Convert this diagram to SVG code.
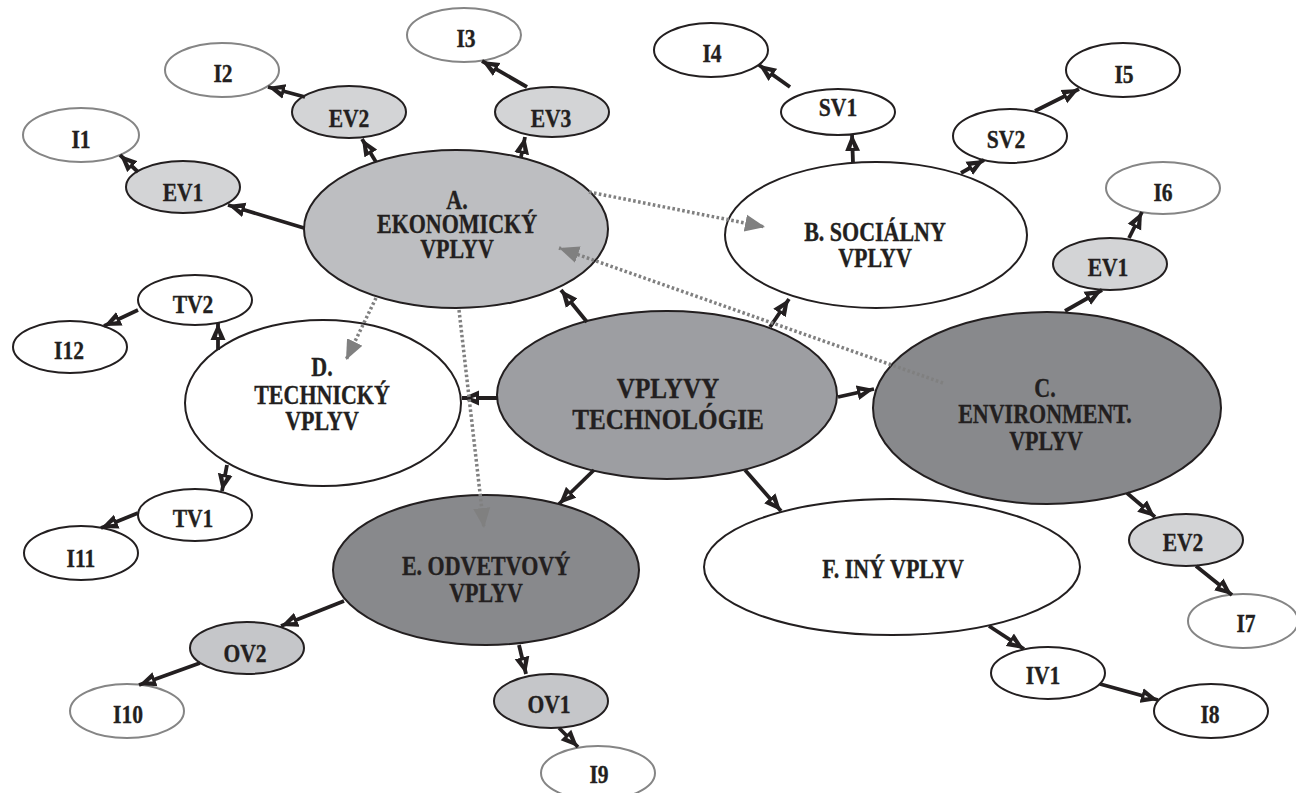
<svg xmlns="http://www.w3.org/2000/svg" width="1296" height="793" viewBox="0 0 1296 793">
<style>
.n{stroke:#231f20;stroke-width:2}
.g{stroke:#858585;stroke-width:2}
.w{fill:#fff}
.lt{fill:#d3d4d6}
.ov{fill:#c5c6c9}
.a{fill:#bdbec1}
.m{fill:#9d9ea2}
.dk{fill:#88898c}
text{font-family:"Liberation Serif","Times New Roman",serif;font-weight:bold;fill:#231f20;stroke:#231f20;stroke-width:0.35;text-anchor:middle}
.s{font-size:26px}
.b{font-size:26.5px}
.c{font-size:30px}
.k{stroke:#231f20;stroke-width:3.8;fill:none;marker-end:url(#ah)}
.d{stroke:#808080;stroke-width:3.5;fill:none;stroke-dasharray:2.6 2.4;marker-end:url(#gh)}
</style>
<defs>
<marker id="ah" markerUnits="userSpaceOnUse" markerWidth="18" markerHeight="16" viewBox="0 -8 18 16" refX="17" refY="0" orient="auto">
<path d="M0,-7.5 L17,0 L0,7.5 Z" fill="#231f20"/>
<path d="M3,-1.2 L7,0 L3,1.2 Z" fill="#fff"/>
</marker>
<marker id="gh" markerUnits="userSpaceOnUse" markerWidth="22" markerHeight="20" viewBox="0 -10 22 20" refX="20" refY="0" orient="auto">
<path d="M0,-8.5 L20,0 L0,8.5 Z" fill="#808080"/>
</marker>
</defs>
<rect width="1296" height="793" fill="#fff"/>

<g id="node-I1"><ellipse class="g w" cx="81" cy="135" rx="58" ry="27"/><text class="s" transform="matrix(.83 0 0 1 81 147.5)">I1</text></g>
<g id="node-I2"><ellipse class="g w" cx="222" cy="70" rx="57" ry="27"/><text class="s" transform="matrix(.83 0 0 1 223 81.5)">I2</text></g>
<g id="node-I3"><ellipse class="g w" cx="464" cy="35" rx="57" ry="27"/><text class="s" transform="matrix(.83 0 0 1 466 46.5)">I3</text></g>
<g id="node-EV1a"><ellipse class="n lt" cx="183" cy="187" rx="57" ry="26"/><text class="s" transform="matrix(.83 0 0 1 183 200.5)">EV1</text></g>
<g id="node-EV2a"><ellipse class="n lt" cx="349" cy="112" rx="57" ry="26"/><text class="s" transform="matrix(.83 0 0 1 349 126.5)">EV2</text></g>
<g id="node-EV3"><ellipse class="n lt" cx="552" cy="112" rx="57" ry="25"/><text class="s" transform="matrix(.83 0 0 1 551 126.5)">EV3</text></g>
<g id="node-A"><ellipse class="n a" cx="456" cy="229" rx="152" ry="79"/><text class="b" transform="matrix(.83 0 0 1 457 208.5)">A.</text><text class="b" transform="matrix(.83 0 0 1 457 232.5)">EKONOMICKÝ</text><text class="b" transform="matrix(.83 0 0 1 457 257.5)">VPLYV</text></g>
<g id="node-I4"><ellipse class="n w" cx="711" cy="50" rx="57" ry="27"/><text class="s" transform="matrix(.83 0 0 1 712 61.5)">I4</text></g>
<g id="node-SV1"><ellipse class="n w" cx="838" cy="112" rx="57" ry="23"/><text class="s" transform="matrix(.83 0 0 1 838 115.5)">SV1</text></g>
<g id="node-SV2"><ellipse class="n w" cx="1010" cy="136" rx="57" ry="27"/><text class="s" transform="matrix(.83 0 0 1 1006 147.5)">SV2</text></g>
<g id="node-I5"><ellipse class="n w" cx="1123" cy="70" rx="57" ry="27"/><text class="s" transform="matrix(.83 0 0 1 1124 82.5)">I5</text></g>
<g id="node-B"><ellipse class="n w" cx="876" cy="235" rx="151" ry="73"/><text class="b" transform="matrix(.83 0 0 1 875 240.5)">B. SOCIÁLNY</text><text class="b" transform="matrix(.83 0 0 1 875 266.5)">VPLYV</text></g>
<g id="node-I6"><ellipse class="g w" cx="1163" cy="188" rx="57" ry="26"/><text class="s" transform="matrix(.83 0 0 1 1163 200.5)">I6</text></g>
<g id="node-EV1b"><ellipse class="n lt" cx="1110" cy="264" rx="57" ry="26"/><text class="s" transform="matrix(.83 0 0 1 1108 275.5)">EV1</text></g>
<g id="node-TV2"><ellipse class="n w" cx="195" cy="300" rx="57" ry="25"/><text class="s" transform="matrix(.83 0 0 1 193 312.5)">TV2</text></g>
<g id="node-I12"><ellipse class="n w" cx="70" cy="347" rx="57" ry="26"/><text class="s" transform="matrix(.83 0 0 1 69 358.5)">I12</text></g>
<g id="node-D"><ellipse class="n w" cx="323" cy="403" rx="138" ry="83"/><text class="b" transform="matrix(.83 0 0 1 322 375.5)">D.</text><text class="b" transform="matrix(.83 0 0 1 322 403.5)">TECHNICKÝ</text><text class="b" transform="matrix(.83 0 0 1 322 429.5)">VPLYV</text></g>
<g id="node-center"><ellipse class="n m" cx="667" cy="395" rx="170" ry="84"/><text class="c" transform="matrix(.84 0 0 1 668 398)">VPLYVY</text><text class="c" transform="matrix(.84 0 0 1 668 429)">TECHNOLÓGIE</text></g>
<g id="node-C"><ellipse class="n dk" cx="1047" cy="408" rx="174" ry="96"/><text class="b" transform="matrix(.83 0 0 1 1045 396.5)">C.</text><text class="b" transform="matrix(.83 0 0 1 1045 422.5)">ENVIRONMENT.</text><text class="b" transform="matrix(.83 0 0 1 1046 449.5)">VPLYV</text></g>
<g id="node-TV1"><ellipse class="n w" cx="195" cy="515" rx="57" ry="26"/><text class="s" transform="matrix(.83 0 0 1 193 526.5)">TV1</text></g>
<g id="node-I11"><ellipse class="n w" cx="81" cy="553" rx="57" ry="27"/><text class="s" transform="matrix(.83 0 0 1 81 566.5)">I11</text></g>
<g id="node-E"><ellipse class="n dk" cx="486" cy="570" rx="153" ry="75"/><text class="b" transform="matrix(.83 0 0 1 486 574.5)">E. ODVETVOVÝ</text><text class="b" transform="matrix(.83 0 0 1 486 601.5)">VPLYV</text></g>
<g id="node-OV2"><ellipse class="n ov" cx="247" cy="648" rx="57" ry="26"/><text class="s" transform="matrix(.83 0 0 1 245 661.5)">OV2</text></g>
<g id="node-I10"><ellipse class="g w" cx="127" cy="711" rx="57" ry="27"/><text class="s" transform="matrix(.83 0 0 1 128 722.5)">I10</text></g>
<g id="node-OV1"><ellipse class="n ov" cx="551" cy="701" rx="57" ry="27"/><text class="s" transform="matrix(.83 0 0 1 549 712.5)">OV1</text></g>
<g id="node-I9"><ellipse class="g w" cx="598" cy="773" rx="57" ry="27"/><text class="s" transform="matrix(.83 0 0 1 599 782.5)">I9</text></g>
<g id="node-F"><ellipse class="n w" cx="892" cy="567" rx="188" ry="68"/><text class="b" transform="matrix(.83 0 0 1 893 577.5)">F. INÝ VPLYV</text></g>
<g id="node-EV2b"><ellipse class="n lt" cx="1186" cy="540" rx="57" ry="26"/><text class="s" transform="matrix(.83 0 0 1 1183 550.5)">EV2</text></g>
<g id="node-I7"><ellipse class="g w" cx="1243" cy="621" rx="55" ry="27"/><text class="s" transform="matrix(.83 0 0 1 1246 631.5)">I7</text></g>
<g id="node-IV1"><ellipse class="n w" cx="1048" cy="673" rx="57" ry="26"/><text class="s" transform="matrix(.83 0 0 1 1043 683.5)">IV1</text></g>
<g id="node-I8"><ellipse class="n w" cx="1211" cy="711" rx="57" ry="27"/><text class="s" transform="matrix(.83 0 0 1 1210 722.5)">I8</text></g>

<g id="connectors">
<path class="k" d="M304,228 L228,205"/>
<path class="k" d="M138,172 L120,155"/>
<path class="k" d="M376,162 L362,139"/>
<path class="k" d="M305,97 L268,87"/>
<path class="k" d="M521,157 L525,137"/>
<path class="k" d="M527,87 L482,61"/>
<path class="k" d="M587,322 L561,290"/>
<path class="k" d="M218,350 L218,323"/>
<path class="k" d="M138,310 L104,326"/>
<path class="k" d="M853,163 L852,134"/>
<path class="k" d="M790,87 L759,65"/>
<path class="k" d="M961,173 L984,160"/>
<path class="k" d="M1035,111 L1079,89"/>
<path class="k" d="M770,327 L789,299"/>
<path class="k" d="M838,397 L874,389"/>
<path class="k" d="M1065,311 L1102,290"/>
<path class="k" d="M1129,238 L1142,212"/>
<path class="k" d="M1127,493 L1155,517"/>
<path class="k" d="M1196,566 L1232,595"/>
<path class="k" d="M497,398 L462,398"/>
<path class="k" d="M227,465 L222,491"/>
<path class="k" d="M138,513 L101,528"/>
<path class="k" d="M594,470 L559,504"/>
<path class="k" d="M344,601 L281,626"/>
<path class="k" d="M200,663 L139,685"/>
<path class="k" d="M519,645 L526,674"/>
<path class="k" d="M559,728 L578,747"/>
<path class="k" d="M745,470 L781,511"/>
<path class="k" d="M989,626 L1024,649"/>
<path class="k" d="M1100,684 L1158,700"/>
<path class="d" d="M589,192 L765,227"/>
<path class="d" d="M943,383 L559,248"/>
<path class="d" d="M376,298 L346,360"/>
<path class="d" d="M459,310 L484,528"/>
</g>
</svg>
